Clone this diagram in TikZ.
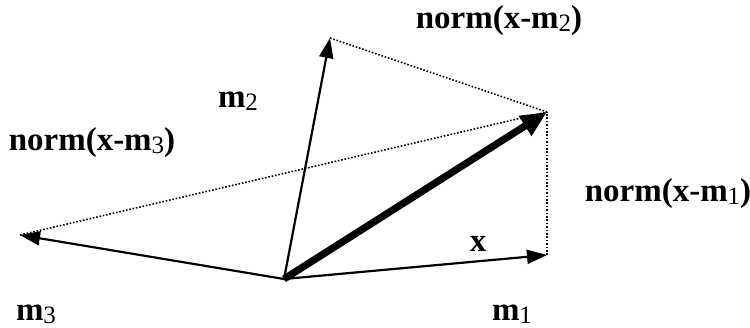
\documentclass[tikz,border=0pt]{standalone}
\usepackage{fontspec}
\setmainfont{Liberation Serif}
\usetikzlibrary{arrows.meta, positioning}
\newcommand{\subidx}[1]{\raisebox{-0.25ex}{\fontsize{12.5}{14}\selectfont\mdseries #1}}

\begin{document}
\begin{tikzpicture}[
  x=0.5pt, y=-0.5pt,
  font=\fontsize{16.5}{20}\selectfont\bfseries,
  vec/.style={line width=1.1pt, -{Triangle[length=10pt, width=7pt]}},
  bigvec/.style={line width=3.6pt, -{Triangle[length=13pt, width=11pt]}},
  gap/.style={line width=0.8pt, dash pattern=on 0.8pt off 0.9pt},
  lbl/.style={inner sep=0pt, anchor=base},
]
\useasboundingbox (0,0) rectangle (750,327);
% Vectors
\coordinate (o) at (284,279);
\coordinate (m1) at (547,255);
\coordinate (m2) at (330,38);
\coordinate (m3) at (20,235);
\coordinate (x) at (547,112);
% Differences
\draw[gap] (m2) -- (x);
\draw[gap] (m3) -- (x);
\draw[gap] (m1) -- (x);
\draw[vec] (o) -- (m1);
\draw[vec] (o) -- (m2);
\draw[vec] (o) -- (m3);
\draw[bigvec] (o) -- (x);
\fill (o) circle (1.5);
% Labels
\node[lbl] (lm1) at (512,320) {m\subidx{1}};
\node[lbl] (lm2) at (238,107) {m\subidx{2}};
\node[lbl] (lm3) at (36,320) {m\subidx{3}};
\node[lbl] (lx) at (478,251) {x};
\node[lbl] (d1) at (668,201) {norm(x-m\subidx{1})};
\node[lbl] (d2) at (499,28) {norm(x-m\subidx{2})};
\node[lbl] (d3) at (92,150) {norm(x-m\subidx{3})};
\end{tikzpicture}
\end{document}
